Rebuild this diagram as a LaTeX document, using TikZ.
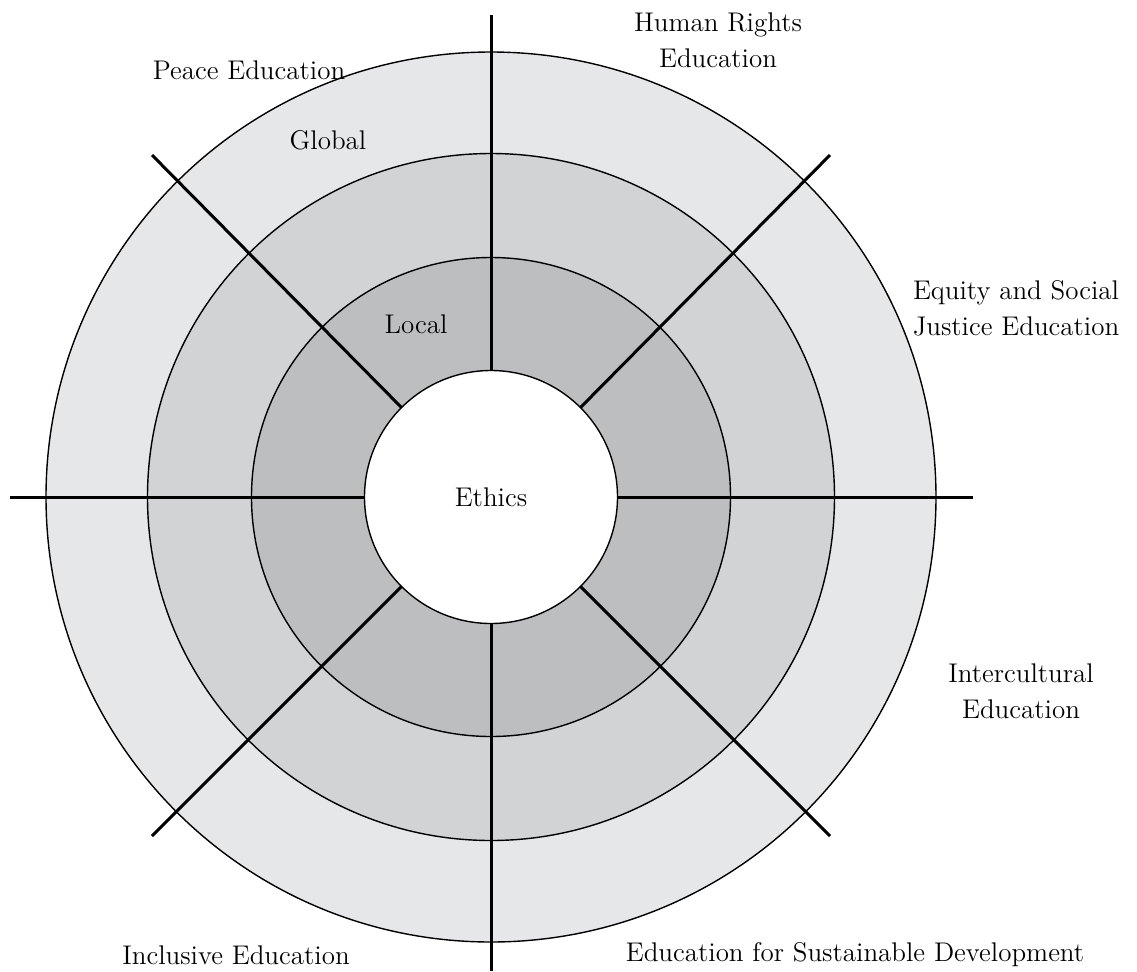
\documentclass[tikz,border=0pt]{standalone}
\definecolor{ringA}{RGB}{230,231,232}
\definecolor{ringB}{RGB}{209,211,212}
\definecolor{ringC}{RGB}{188,190,192}
\begin{document}
\begin{tikzpicture}[x=0.5pt,y=0.5pt,
  ring/.style={circle,draw=black,line width=0.7pt,inner sep=0pt,outer sep=0pt},
  spoke/.style={line width=1.5pt},
  lbl/.style={font=\fontsize{13.5}{18}\selectfont,align=center,inner sep=0pt}]
\useasboundingbox (0,0) rectangle (1137,-971);
\coordinate (C) at (491,-497);
\node[ring,fill=ringA,minimum size=445pt] (outer) at (C) {};
\node[ring,fill=ringB,minimum size=343.5pt] (middle) at (C) {};
\node[ring,fill=ringC,minimum size=239.5pt] (inner) at (C) {};
\node[ring,fill=white,minimum size=126.5pt,lbl] (ethics) at (C) {Ethics};
% spoke ends
\coordinate (eN) at (491,-15);
\coordinate (eS) at (491,-971);
\coordinate (eW) at (10,-497);
\coordinate (eE) at (973,-497);
\coordinate (eNE) at (830,-155);
\coordinate (eNW) at (152,-155);
\coordinate (eSE) at (830,-836);
\coordinate (eSW) at (152,-836);
\draw[spoke] (ethics.90) -- (eN);
\draw[spoke] (ethics.270) -- (eS);
\draw[spoke] (ethics.180) -- (eW);
\draw[spoke] (ethics.0) -- (eE);
\draw[spoke] (ethics.45) -- (eNE);
\draw[spoke] (ethics.135) -- (eNW);
\draw[spoke] (ethics.-45) -- (eSE);
\draw[spoke] (ethics.225) -- (eSW);
% labels
\node[lbl] (peace) at (249,-70) {Peace Education};
\node[lbl] (human) at (718,-40) {Human Rights\\Education};
\node[lbl] (equity) at (1016,-308) {Equity and Social\\Justice Education};
\node[lbl] (inter) at (1021,-691) {Intercultural\\Education};
\node[lbl] (esd) at (855,-955) {Education for Sustainable Development};
\node[lbl] (incl) at (236,-955) {Inclusive Education};
\node[lbl] (global) at (328,-140) {Global};
\node[lbl] (local) at (416,-324) {Local};
\end{tikzpicture}
\end{document}
